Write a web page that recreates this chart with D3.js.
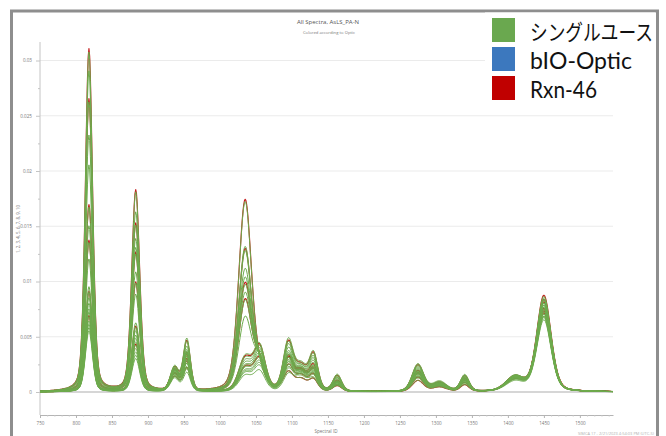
<!DOCTYPE html>
<html>
<head>
<meta charset="utf-8">
<script src="https://cdn.jsdelivr.net/npm/d3@7"></script>
<style>
  html, body { margin: 0; padding: 0; background: #fff; }
  svg { display: block; }
</style>
</head>
<body>
<svg id="chart" width="666" height="436"></svg>
<script>
// ---- Data ---------------------------------------------------------------
// Spectral range (Spectral ID) and axis ticks
const spectralRange = [750, 1546];
const xTicks = [750, 800, 850, 900, 950, 1000, 1050, 1100, 1150, 1200, 1250, 1300, 1350, 1400, 1450, 1500];
const yTicks = [0, 0.005, 0.01, 0.015, 0.02, 0.025, 0.03];
const yTickLabels = ["0", "0.005", "0.01", "0.015", "0.02", "0.025", "0.03"];

// Absorption bands: centre position and half-width (Spectral ID units)
const bandCenters = [818, 883, 937, 954, 1035, 1055, 1095, 1113, 1130, 1163, 1275, 1305, 1340, 1410, 1450];
const bandWidths  = [5,   5.5, 6,   5,   9,    8,    7,    8,    6,    6,    8,    10,   6,    13,   10];

// Optic of each spectrum
const spectrumOptics = [
  "Rxn-46", "Rxn-46", "Rxn-46", "Rxn-46", "Rxn-46", "Rxn-46",
  "シングルユース", "シングルユース", "シングルユース", "シングルユース", "シングルユース",
  "シングルユース", "シングルユース", "シングルユース", "シングルユース", "シングルユース",
  "シングルユース", "シングルユース", "シングルユース", "シングルユース", "シングルユース",
  "シングルユース", "シングルユース", "シングルユース", "シングルユース", "シングルユース"
];

// Band heights of each spectrum (one row per spectrum, one column per band)
const bandHeights = [
  // Rxn-46
  [0.0310, 0.0182, 0.0012, 0.0020, 0.0173, 0.0012, 0.0016, 0.0010, 0.0010, 0.0005, 0.0010, 0.0004, 0.0006, 0.0010, 0.0087],
  [0.0265, 0.0152, 0.0015, 0.0026, 0.0128, 0.0018, 0.0022, 0.0013, 0.0014, 0.0006, 0.0013, 0.0005, 0.0008, 0.0011, 0.0081],
  [0.0169, 0.0126, 0.0018, 0.0032, 0.0097, 0.0022, 0.0028, 0.0016, 0.0018, 0.0008, 0.0016, 0.0006, 0.0010, 0.0013, 0.0075],
  [0.0137, 0.0099, 0.0019, 0.0034, 0.0082, 0.0024, 0.0030, 0.0017, 0.0019, 0.0009, 0.0017, 0.0007, 0.0011, 0.0013, 0.0071],
  [0.0091, 0.0059, 0.0021, 0.0045, 0.0029, 0.0039, 0.0043, 0.0021, 0.0032, 0.0014, 0.0024, 0.0008, 0.0014, 0.0013, 0.0083],
  [0.0069, 0.0043, 0.0016, 0.0029, 0.0021, 0.0029, 0.0029, 0.0018, 0.0022, 0.0010, 0.0019, 0.0007, 0.0012, 0.0011, 0.0073],
  // シングルユース
  [0.0307, 0.0180, 0.0012, 0.0020, 0.0171, 0.0012, 0.0016, 0.0010, 0.0010, 0.0005, 0.0010, 0.0004, 0.0006, 0.0010, 0.0086],
  [0.0290, 0.0162, 0.0014, 0.0024, 0.0130, 0.0016, 0.0020, 0.0012, 0.0013, 0.0006, 0.0012, 0.0005, 0.0007, 0.0011, 0.0083],
  [0.0262, 0.0150, 0.0015, 0.0026, 0.0126, 0.0018, 0.0022, 0.0013, 0.0014, 0.0006, 0.0013, 0.0005, 0.0008, 0.0011, 0.0080],
  [0.0232, 0.0138, 0.0016, 0.0028, 0.0110, 0.0018, 0.0024, 0.0014, 0.0015, 0.0007, 0.0014, 0.0005, 0.0008, 0.0012, 0.0078],
  [0.0205, 0.0130, 0.0017, 0.0030, 0.0102, 0.0020, 0.0026, 0.0015, 0.0016, 0.0007, 0.0015, 0.0006, 0.0009, 0.0012, 0.0076],
  [0.0167, 0.0124, 0.0018, 0.0032, 0.0095, 0.0022, 0.0028, 0.0016, 0.0018, 0.0008, 0.0016, 0.0006, 0.0010, 0.0013, 0.0074],
  [0.0150, 0.0108, 0.0018, 0.0033, 0.0088, 0.0022, 0.0028, 0.0016, 0.0018, 0.0008, 0.0016, 0.0006, 0.0010, 0.0013, 0.0072],
  [0.0135, 0.0098, 0.0019, 0.0034, 0.0081, 0.0024, 0.0030, 0.0017, 0.0019, 0.0009, 0.0017, 0.0007, 0.0011, 0.0013, 0.0070],
  [0.0120, 0.0088, 0.0020, 0.0035, 0.0066, 0.0026, 0.0032, 0.0018, 0.0020, 0.0009, 0.0018, 0.0007, 0.0011, 0.0014, 0.0068],
  [0.0095, 0.0062, 0.0022, 0.0047, 0.0030, 0.0040, 0.0045, 0.0022, 0.0033, 0.0015, 0.0025, 0.0009, 0.0015, 0.0013, 0.0084],
  [0.0090, 0.0058, 0.0021, 0.0044, 0.0028, 0.0038, 0.0042, 0.0021, 0.0031, 0.0014, 0.0024, 0.0008, 0.0014, 0.0013, 0.0082],
  [0.0085, 0.0055, 0.0020, 0.0040, 0.0026, 0.0036, 0.0040, 0.0020, 0.0029, 0.0013, 0.0023, 0.0008, 0.0014, 0.0012, 0.0080],
  [0.0080, 0.0051, 0.0019, 0.0037, 0.0024, 0.0034, 0.0037, 0.0020, 0.0027, 0.0012, 0.0022, 0.0008, 0.0013, 0.0012, 0.0078],
  [0.0075, 0.0048, 0.0018, 0.0034, 0.0022, 0.0032, 0.0034, 0.0019, 0.0025, 0.0012, 0.0021, 0.0007, 0.0013, 0.0012, 0.0076],
  [0.0072, 0.0045, 0.0017, 0.0031, 0.0021, 0.0030, 0.0031, 0.0019, 0.0023, 0.0011, 0.0020, 0.0007, 0.0012, 0.0011, 0.0074],
  [0.0068, 0.0042, 0.0016, 0.0028, 0.0020, 0.0028, 0.0028, 0.0018, 0.0021, 0.0010, 0.0019, 0.0007, 0.0012, 0.0011, 0.0072],
  [0.0064, 0.0039, 0.0015, 0.0025, 0.0018, 0.0026, 0.0025, 0.0017, 0.0019, 0.0009, 0.0018, 0.0006, 0.0011, 0.0011, 0.0070],
  [0.0061, 0.0036, 0.0014, 0.0022, 0.0017, 0.0024, 0.0022, 0.0017, 0.0017, 0.0008, 0.0017, 0.0006, 0.0011, 0.0010, 0.0068],
  [0.0058, 0.0033, 0.0013, 0.0020, 0.0016, 0.0022, 0.0019, 0.0016, 0.0015, 0.0008, 0.0016, 0.0006, 0.0010, 0.0010, 0.0067],
  [0.0055, 0.0030, 0.0012, 0.0017, 0.0014, 0.0018, 0.0015, 0.0015, 0.0011, 0.0006, 0.0014, 0.0005, 0.0009, 0.0009, 0.0065]
];

const legendLabels = ["シングルユース", "bIO-Optic", "Rxn-46"];
const legendColors = ["#6aa84f", "#3c78be", "#c00000"];
const opticColor = { "シングルユース": "#6dab4d", "bIO-Optic": "#3c78be", "Rxn-46": "#c41a1a" };

// ---- Chart --------------------------------------------------------------
const svg = d3.select("#chart");
const font = "'Open Sans', 'Noto Sans', sans-serif";

const x = d3.scaleLinear().domain(spectralRange).range([40, 613]);
const y = d3.scaleLinear().domain([0, 0.03]).range([392, 60.5]);

// Screenshot frame
svg.append("path")
  .attr("d", "M11.5,440 V11 H657.5 V440")
  .attr("fill", "none").attr("stroke", "#8e8e8e").attr("stroke-width", 3);

// Title
svg.append("text").attr("x", 328).attr("y", 24).attr("text-anchor", "middle")
  .attr("font-family", font).attr("font-size", 6).attr("fill", "#555")
  .text("All Spectra, AsLS_PA-N");
svg.append("text").attr("x", 329).attr("y", 34).attr("text-anchor", "middle")
  .attr("font-family", font).attr("font-size", 4.2).attr("fill", "#777")
  .text("Colored according to Optic");

// Horizontal grid lines
svg.append("g").selectAll("line").data(yTicks.filter(d => d > 0)).join("line")
  .attr("x1", x.range()[0]).attr("x2", x.range()[1])
  .attr("y1", d => y(d)).attr("y2", d => y(d))
  .attr("stroke", "#ebebeb").attr("stroke-width", 1);

// Zero line
svg.append("line")
  .attr("x1", x.range()[0]).attr("x2", x.range()[1])
  .attr("y1", y(0)).attr("y2", y(0))
  .attr("stroke", "#c9c9c9").attr("stroke-width", 1.3);

// Y axis
const yAxisG = svg.append("g").attr("transform", "translate(40,0)")
  .call(d3.axisLeft(y).tickValues(yTicks).tickSize(4)
    .tickFormat((d, i) => yTickLabels[i]));
svg.append("g").attr("transform", "translate(40,0)")
  .call(d3.axisLeft(y).tickValues(yTicks.slice(0, -1).map((d, i) => (yTicks[i] + yTicks[i + 1]) / 2))
    .tickSize(2).tickFormat(""))
  .call(g => g.select(".domain").remove())
  .selectAll("line").attr("stroke", "#c4c4c4");
yAxisG.select(".domain").remove();
yAxisG.selectAll("line").attr("stroke", "#c4c4c4");
yAxisG.selectAll("text").attr("font-family", font).attr("font-size", 4.6).attr("fill", "#777").attr("dx", -1);
svg.append("line").attr("x1", 40).attr("x2", 40).attr("y1", 42).attr("y2", 415)
  .attr("stroke", "#c4c4c4").attr("stroke-width", 1);

// Y axis title
svg.append("text").attr("transform", "translate(20,229) rotate(-90)")
  .attr("text-anchor", "middle").attr("font-family", font).attr("font-size", 4.4).attr("fill", "#777")
  .text("1, 2, 3, 4, 5, 6, 7, 8, 9, 10");

// X axis
const xAxisG = svg.append("g").attr("transform", "translate(0,415)")
  .call(d3.axisBottom(x).tickValues(xTicks).tickSize(3).tickSizeOuter(0).tickFormat(d3.format("d")));
xAxisG.select(".domain").attr("stroke", "#b4b4b4");
xAxisG.selectAll("line").attr("stroke", "#b4b4b4");
xAxisG.selectAll("text").attr("font-family", font).attr("font-size", 4.6).attr("fill", "#777").attr("dy", "0.9em");
svg.append("g").attr("transform", "translate(0,415)")
  .call(d3.axisBottom(x).tickValues(d3.range(760, 1546, 10).filter(v => v % 50 !== 0)).tickSize(1.5).tickFormat(""))
  .call(g => g.select(".domain").remove())
  .selectAll("line").attr("stroke", "#c4c4c4");

svg.append("text").attr("x", 326).attr("y", 433).attr("text-anchor", "middle")
  .attr("font-family", font).attr("font-size", 4.6).attr("fill", "#777")
  .text("Spectral ID");

// Spectra: each spectrum is the sum of its bands (pseudo-Voigt band shape)
const grid = d3.range(spectralRange[0], spectralRange[1] + 0.5, 1);
function spectrum(heights) {
  return grid.map(w => {
    let v = 0;
    heights.forEach((h, k) => {
      const d = (w - bandCenters[k]) / bandWidths[k];
      v += h * (0.7 * Math.exp(-0.5 * d * d) + 0.3 / (1 + (d / 1.18) * (d / 1.18)));
    });
    return [w, v];
  });
}

const line = d3.line().x(d => x(d[0])).y(d => y(d[1]));
const drawOrder = ["Rxn-46", "bIO-Optic", "シングルユース"];
const spectraG = svg.append("g").attr("fill", "none");
drawOrder.forEach(optic => {
  bandHeights.forEach((row, i) => {
    if (spectrumOptics[i] !== optic) return;
    spectraG.append("path")
      .attr("d", line(spectrum(row)))
      .attr("stroke", opticColor[optic])
      .attr("stroke-width", optic === "Rxn-46" ? 1.15 : 1)
      .attr("stroke-linejoin", "round");
  });
});

// Footer stamp
svg.append("text").attr("x", 578).attr("y", 434.5)
  .attr("font-family", font).attr("font-size", 3.2).attr("fill", "#b0b0b0")
  .attr("textLength", 76).attr("lengthAdjust", "spacingAndGlyphs")
  .text("SIMCA 17 - 2/21/2023 4:54:03 PM (UTC-5)");

// Legend (narrow UI-style lettering: glyphs are squeezed horizontally)
const legend = svg.append("g");
legend.append("rect").attr("x", 485).attr("y", 12.5).attr("width", 170.5).attr("height", 94).attr("fill", "#fff");
const legendTextLen = [123, 102, 67];
const legendFonts = ["'Noto Sans CJK JP', sans-serif", "Lato, 'Liberation Sans', sans-serif", "Lato, 'Liberation Sans', sans-serif"];
const legendSizes = [22, 24, 24];
legendLabels.forEach((label, i) => {
  const top = 18 + i * 29;
  legend.append("rect").attr("x", 492).attr("y", top).attr("width", 23).attr("height", 24)
    .attr("fill", legendColors[i]);
  const t = legend.append("text").attr("x", 0).attr("y", 0)
    .attr("font-family", legendFonts[i])
    .attr("font-size", legendSizes[i]).attr("fill", "#111")
    .text(label);
  const natural = t.node().getComputedTextLength() || legendTextLen[i];
  t.attr("transform", `translate(530,${top + 22}) scale(${legendTextLen[i] / natural},1)`);
});
</script>
</body>
</html>
